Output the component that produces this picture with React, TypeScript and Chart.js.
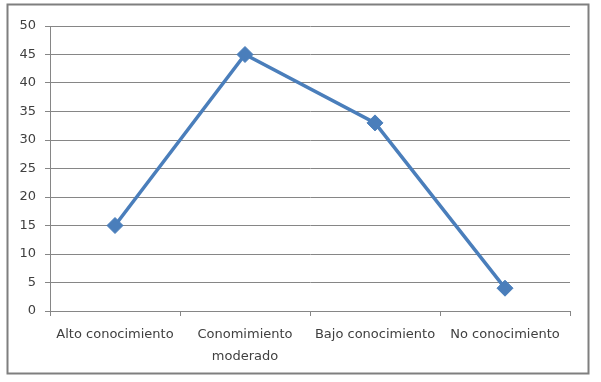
import React, { useEffect, useRef } from "react";
import { Chart, registerables } from "chart.js";

Chart.register(...registerables);

const categories: (string | string[])[] = [
  "Alto conocimiento",
  ["Conomimiento", "moderado"],
  "Bajo conocimiento",
  "No conocimiento",
];
const values: number[] = [15, 45, 33, 4];
const yMin = 0;
const yMax = 50;
const yStep = 5;

const borderPlugin = {
  id: "outerBorder",
  beforeDraw(chart: any) {
    const ctx = chart.ctx;
    ctx.save();
    ctx.fillStyle = "#ffffff";
    ctx.fillRect(0, 0, chart.width, chart.height);
    ctx.strokeStyle = "#7f7f7f";
    ctx.lineWidth = 2;
    ctx.strokeRect(7.5, 4.5, 581, 369);
    ctx.restore();
  },
};

export default function App() {
  const ref = useRef<HTMLCanvasElement>(null);
  useEffect(() => {
    document.body.style.margin = "0";
    const font = { family: "DejaVu Sans", size: 13 };
    const chart = new Chart(ref.current!, {
      type: "line",
      data: {
        labels: categories,
        datasets: [
          {
            data: values,
            borderColor: "#4a7ebb",
            backgroundColor: "#4a7ebb",
            borderWidth: 3.5,
            pointStyle: "rectRot",
            pointRadius: 8,
            pointBorderWidth: 1,
            tension: 0,
          },
        ],
      },
      options: {
        animation: false,
        responsive: false,
        devicePixelRatio: 1,
        layout: { padding: { left: 0, top: 26, right: 31, bottom: 0 } },
        plugins: { legend: { display: false }, tooltip: { enabled: false } },
        scales: {
          x: {
            offset: true,
            grid: {
              offset: true,
              drawOnChartArea: false,
              drawTicks: true,
              tickLength: 5,
              color: "#868686",
            },
            border: { color: "#868686", width: 1 },
            ticks: {
              color: "#404040",
              font: { ...font, lineHeight: 1.65 } as any,
              padding: 8,
              maxRotation: 0,
              autoSkip: false,
            },
            afterFit: (s: any) => {
              s.height = 71;
            },
          },
          y: {
            min: yMin,
            max: yMax,
            grid: { color: "#868686", tickLength: 5 },
            border: { color: "#868686", width: 1 },
            ticks: {
              stepSize: yStep,
              color: "#404040",
              font,
              padding: 9,
            },
            afterFit: (s: any) => {
              s.width = 50;
            },
          },
        },
      },
      plugins: [borderPlugin],
    });
    return () => chart.destroy();
  }, []);
  return (
    <div style={{ position: "absolute", left: 0, top: 0, width: 601, height: 382 }}>
      <canvas ref={ref} width={601} height={382} style={{ width: 601, height: 382 }} />
    </div>
  );
}
